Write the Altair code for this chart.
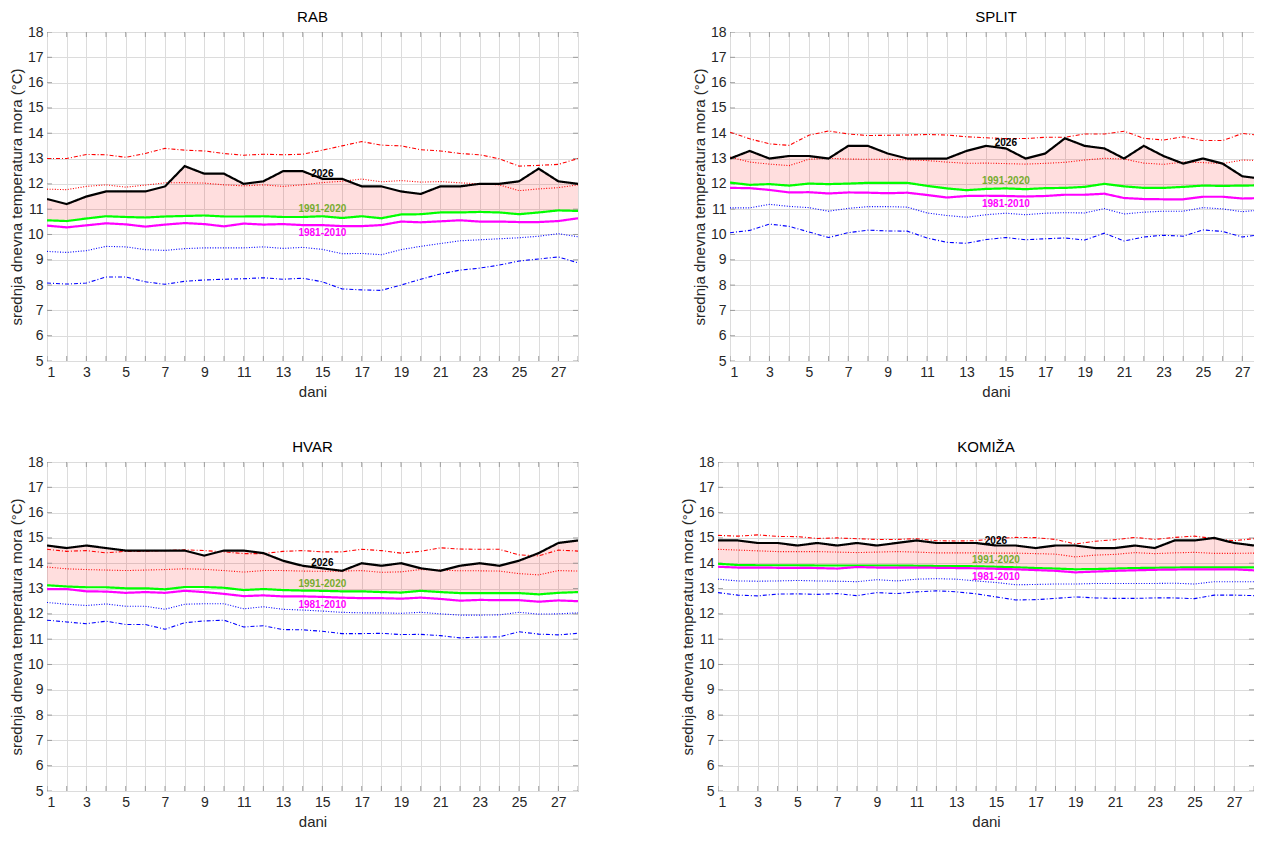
import altair as alt
import pandas as pd

days = list(range(1, 29))
y_ticks = list(range(5, 19))

series_keys = ["max_dd", "max_dot", "y2026", "c9120", "c8110", "min_dot", "min_dd"]

# ---------------- RAB ----------------
rab_y2026 = [11.4, 11.2, 11.5, 11.7, 11.7, 11.7, 11.9, 12.7, 12.4, 12.4, 12.0, 12.1, 12.5, 12.5,
             12.2, 12.2, 11.9, 11.9, 11.7, 11.6, 11.9, 11.9, 12.0, 12.0, 12.1, 12.6, 12.1, 12.0]
rab_max_dd = [13.0, 13.0, 13.16, 13.15, 13.05, 13.2, 13.4, 13.33, 13.3, 13.2, 13.13, 13.17, 13.15, 13.17,
              13.33, 13.5, 13.67, 13.53, 13.5, 13.35, 13.3, 13.2, 13.15, 12.99, 12.7, 12.73, 12.77, 13.0]
rab_max_dot = [11.79, 11.77, 11.9, 11.96, 11.87, 11.95, 12.04, 12.05, 12.03, 11.96, 11.92, 11.96, 11.9, 11.96,
               12.05, 12.1, 12.19, 12.08, 12.13, 12.07, 12.09, 12.04, 12.0, 11.96, 11.73, 11.8, 11.85, 11.96]
rab_c9120 = [10.56, 10.53, 10.63, 10.72, 10.69, 10.67, 10.71, 10.73, 10.75, 10.71, 10.71, 10.72, 10.69, 10.69,
             10.72, 10.65, 10.72, 10.64, 10.79, 10.8, 10.87, 10.87, 10.89, 10.87, 10.8, 10.87, 10.95, 10.93]
rab_c8110 = [10.35, 10.28, 10.36, 10.44, 10.4, 10.31, 10.39, 10.45, 10.41, 10.32, 10.43, 10.39, 10.41, 10.37,
             10.37, 10.33, 10.33, 10.37, 10.51, 10.48, 10.52, 10.56, 10.51, 10.51, 10.49, 10.49, 10.53, 10.64]
rab_min_dot = [9.33, 9.29, 9.36, 9.53, 9.51, 9.4, 9.37, 9.44, 9.47, 9.47, 9.47, 9.51, 9.45, 9.49,
               9.41, 9.24, 9.25, 9.2, 9.4, 9.53, 9.64, 9.75, 9.79, 9.83, 9.87, 9.93, 10.03, 9.91]
rab_min_dd = [8.08, 8.04, 8.08, 8.32, 8.32, 8.13, 8.03, 8.15, 8.2, 8.23, 8.25, 8.29, 8.23, 8.27,
              8.13, 7.85, 7.81, 7.79, 8.0, 8.23, 8.44, 8.59, 8.67, 8.79, 8.95, 9.03, 9.11, 8.88]

# ---------------- SPLIT ----------------
split_y2026 = [13.0, 13.3, 13.0, 13.1, 13.1, 13.0, 13.5, 13.5, 13.2, 13.0, 13.0, 13.0, 13.3, 13.5,
               13.4, 13.0, 13.2, 13.8, 13.5, 13.4, 13.0, 13.5, 13.1, 12.8, 13.0, 12.8, 12.3, 12.2]
split_max_dd = [14.04, 13.78, 13.58, 13.52, 13.92, 14.09, 13.97, 13.91, 13.92, 13.93, 13.95, 13.93, 13.86, 13.82,
                13.79, 13.79, 13.84, 13.84, 13.97, 13.97, 14.08, 13.8, 13.73, 13.86, 13.71, 13.71, 13.99, 13.91]
split_max_dot = [13.06, 12.86, 12.78, 12.72, 12.97, 13.01, 12.98, 12.97, 12.97, 12.95, 12.92, 12.86, 12.81, 12.82,
                 12.8, 12.78, 12.81, 12.85, 12.94, 13.01, 12.98, 12.82, 12.77, 12.86, 12.84, 12.8, 12.94, 12.92]
split_c9120 = [12.05, 11.96, 11.99, 11.93, 12.01, 11.99, 12.01, 12.04, 12.04, 12.04, 11.92, 11.82, 11.75, 11.8,
               11.82, 11.79, 11.83, 11.84, 11.88, 12.0, 11.9, 11.84, 11.84, 11.88, 11.93, 11.92, 11.93, 11.94]
split_c8110 = [11.84, 11.83, 11.76, 11.66, 11.67, 11.62, 11.66, 11.65, 11.63, 11.65, 11.56, 11.46, 11.52, 11.53,
               11.52, 11.5, 11.52, 11.57, 11.57, 11.61, 11.44, 11.4, 11.39, 11.39, 11.49, 11.49, 11.42, 11.44]
split_min_dot = [11.05, 11.05, 11.19, 11.11, 11.06, 10.92, 11.03, 11.1, 11.1, 11.08, 10.85, 10.75, 10.68, 10.78,
                 10.84, 10.78, 10.84, 10.86, 10.85, 11.02, 10.81, 10.88, 10.92, 10.92, 11.06, 11.01, 10.9, 10.97]
split_min_dd = [10.07, 10.16, 10.41, 10.32, 10.1, 9.88, 10.07, 10.17, 10.14, 10.13, 9.86, 9.69, 9.65, 9.8,
                9.88, 9.79, 9.83, 9.86, 9.78, 10.05, 9.74, 9.9, 9.97, 9.93, 10.18, 10.12, 9.9, 10.0]

# ---------------- HVAR ----------------
hvar_y2026 = [14.7, 14.6, 14.7, 14.6, 14.5, 14.5, 14.5, 14.5, 14.3, 14.5, 14.5, 14.4, 14.1, 13.9,
              13.8, 13.7, 14.0, 13.9, 14.0, 13.8, 13.7, 13.9, 14.0, 13.9, 14.1, 14.4, 14.8, 14.9]
hvar_max_dd = [14.55, 14.47, 14.5, 14.41, 14.47, 14.47, 14.5, 14.53, 14.5, 14.45, 14.38, 14.38, 14.47, 14.5,
               14.45, 14.45, 14.55, 14.5, 14.4, 14.47, 14.61, 14.56, 14.55, 14.55, 14.33, 14.29, 14.52, 14.48]
hvar_max_dot = [13.85, 13.78, 13.75, 13.73, 13.71, 13.73, 13.75, 13.78, 13.76, 13.71, 13.65, 13.71, 13.71, 13.69,
                13.68, 13.69, 13.71, 13.64, 13.66, 13.75, 13.73, 13.7, 13.7, 13.69, 13.59, 13.54, 13.71, 13.69]
hvar_c9120 = [13.13, 13.08, 13.05, 13.05, 13.01, 13.01, 12.97, 13.06, 13.06, 13.03, 12.94, 12.98, 12.94, 12.92,
              12.91, 12.89, 12.89, 12.86, 12.84, 12.91, 12.86, 12.82, 12.82, 12.82, 12.82, 12.77, 12.83, 12.86]
hvar_c8110 = [12.98, 12.98, 12.89, 12.88, 12.83, 12.86, 12.83, 12.91, 12.86, 12.79, 12.7, 12.73, 12.69, 12.69,
              12.67, 12.64, 12.62, 12.62, 12.6, 12.64, 12.59, 12.52, 12.55, 12.54, 12.54, 12.48, 12.53, 12.5]
hvar_min_dot = [12.45, 12.38, 12.33, 12.39, 12.3, 12.3, 12.18, 12.38, 12.4, 12.4, 12.2, 12.28, 12.18, 12.15,
                12.11, 12.06, 12.04, 12.04, 12.02, 12.06, 12.0, 11.95, 11.95, 11.96, 12.06, 11.99, 12.0, 12.04]
hvar_min_dd = [11.75, 11.68, 11.61, 11.71, 11.58, 11.58, 11.39, 11.65, 11.72, 11.75, 11.48, 11.53, 11.38, 11.37,
               11.31, 11.22, 11.22, 11.23, 11.18, 11.19, 11.14, 11.05, 11.08, 11.09, 11.29, 11.2, 11.17, 11.23]

# ---------------- KOMIŽA ----------------
komiza_y2026 = [14.9, 14.9, 14.8, 14.8, 14.7, 14.8, 14.7, 14.8, 14.7, 14.8, 14.9, 14.8, 14.8, 14.8,
                14.7, 14.7, 14.6, 14.7, 14.7, 14.6, 14.6, 14.7, 14.6, 14.9, 14.9, 15.0, 14.8, 14.7]
komiza_max_dd = [15.1, 15.07, 15.12, 15.06, 15.05, 14.98, 15.0, 14.97, 14.94, 14.94, 14.97, 14.89, 14.88, 14.89,
                 14.98, 15.02, 15.01, 14.94, 14.76, 14.87, 14.93, 15.02, 14.94, 15.02, 15.07, 14.97, 14.89, 14.97]
komiza_max_dot = [14.55, 14.52, 14.49, 14.46, 14.46, 14.46, 14.44, 14.42, 14.44, 14.46, 14.44, 14.41, 14.41, 14.41,
                  14.4, 14.4, 14.38, 14.36, 14.25, 14.32, 14.35, 14.42, 14.38, 14.41, 14.43, 14.39, 14.39, 14.4]
komiza_c9120 = [13.98, 13.93, 13.92, 13.92, 13.92, 13.91, 13.91, 13.91, 13.91, 13.91, 13.9, 13.89, 13.89, 13.88,
                13.86, 13.84, 13.81, 13.79, 13.76, 13.77, 13.79, 13.81, 13.82, 13.83, 13.84, 13.84, 13.84, 13.84]
komiza_c8110 = [13.86, 13.83, 13.83, 13.82, 13.82, 13.81, 13.79, 13.85, 13.83, 13.83, 13.83, 13.82, 13.81, 13.8,
                13.78, 13.76, 13.73, 13.7, 13.64, 13.67, 13.7, 13.72, 13.74, 13.75, 13.76, 13.76, 13.76, 13.72]
komiza_min_dot = [13.37, 13.3, 13.29, 13.3, 13.32, 13.3, 13.29, 13.27, 13.35, 13.3, 13.37, 13.39, 13.37, 13.3,
                  13.24, 13.15, 13.16, 13.18, 13.18, 13.2, 13.2, 13.2, 13.2, 13.21, 13.18, 13.27, 13.27, 13.27]
komiza_min_dd = [12.84, 12.74, 12.71, 12.78, 12.79, 12.77, 12.8, 12.72, 12.84, 12.8, 12.87, 12.91, 12.87, 12.79,
                 12.67, 12.55, 12.56, 12.61, 12.67, 12.63, 12.61, 12.61, 12.63, 12.63, 12.6, 12.74, 12.74, 12.72]

label_day = 15
label_texts = {"y2026": "2026", "c9120": "1991-2020", "c8110": "1981-2010"}

# ---------------- styling ----------------
FONT = "Liberation Sans"
TXT = "#262626"
FRAME = "#7f7f7f"
series_colors = ["#ff0000", "#ff0000", "#000000", "#00ff00", "#ff00ff", "#0000ff", "#0000ff"]
series_dash = [[4, 2, 1, 2], [1, 1.6], [1, 0], [1, 0], [1, 0], [1, 1.6], [4, 2, 1, 2]]
label_colors = {"y2026": "#000000", "c9120": "#77ac30", "c8110": "#ff00ff"}
label_dy = {"y2026": -5, "c9120": -7, "c8110": 8}

PH = 329


def panel(name, y2026, max_dd, max_dot, c9120, c8110, min_dot, min_dd, width):
    cols = {"max_dd": max_dd, "max_dot": max_dot, "y2026": y2026, "c9120": c9120,
            "c8110": c8110, "min_dot": min_dot, "min_dd": min_dd}
    wide = pd.DataFrame({"day": days, **cols})
    long = wide.melt(id_vars="day", value_vars=series_keys, var_name="series", value_name="value")

    x_enc = alt.X("day:Q",
                  scale=alt.Scale(domain=[1, 28], nice=False, zero=False),
                  axis=alt.Axis(values=days,
                                labelExpr="datum.value % 2 == 1 ? datum.label : ''",
                                title="dani", grid=True, ticks=False, domain=False,
                                labelPadding=4, titlePadding=5))

    def y_enc(field):
        return alt.Y(f"{field}:Q",
                     scale=alt.Scale(domain=[5, 18], nice=False, zero=False),
                     axis=alt.Axis(values=y_ticks, title="srednja dnevna temperatura mora (°C)",
                                   grid=True, ticks=False, domain=False,
                                   labelPadding=4, titlePadding=3))

    area = alt.Chart(wide).mark_area(color="#ff0000", opacity=0.13, clip=True).encode(
        x=x_enc, y=y_enc("c9120"), y2="y2026:Q")

    def lines(keys, sw):
        return alt.Chart(long).mark_line(clip=True, strokeWidth=sw).encode(
            x=x_enc, y=y_enc("value"),
            color=alt.Color("series:N", scale=alt.Scale(domain=series_keys, range=series_colors), legend=None),
            strokeDash=alt.StrokeDash("series:N", scale=alt.Scale(domain=series_keys, range=series_dash),
                                      legend=None),
            detail="series:N").transform_filter(alt.FieldOneOfPredicate(field="series", oneOf=keys))

    thin = lines(["max_dd", "max_dot", "min_dot", "min_dd"], 1.1)
    mid = lines(["c8110", "c9120"], 2.2)
    top = lines(["y2026"], 2.2)

    # inward ticks on the box (MATLAB style)
    xt_df = pd.DataFrame({"day": days})
    yt_df = pd.DataFrame({"yv": y_ticks})
    tick_layers = []
    for ypix in [0, PH]:
        tick_layers.append(alt.Chart(xt_df).mark_tick(orient="vertical", size=10, thickness=1,
                                                      color=FRAME, clip=True).encode(
            x=x_enc, y=alt.value(ypix)))
    for xpix in [0, width]:
        tick_layers.append(alt.Chart(yt_df).mark_tick(orient="horizontal", size=10, thickness=1,
                                                      color=FRAME, clip=True).encode(
            y=y_enc("yv"), x=alt.value(xpix)))

    texts = []
    for key in ["y2026", "c9120", "c8110"]:
        tdf = pd.DataFrame({"day": [label_day], "value": [cols[key][label_day - 1]],
                            "label": [label_texts[key]]})
        texts.append(alt.Chart(tdf).mark_text(font=FONT, fontSize=10, fontWeight="bold",
                                              color=label_colors[key], dy=label_dy[key]).encode(
            x=x_enc, y=y_enc("value"), text="label:N"))

    return alt.layer(area, *tick_layers, thin, mid, top, *texts).properties(
        width=width, height=PH,
        title=alt.TitleParams(name, fontSize=15, font=FONT, fontWeight="normal", color="#000000",
                              frame="group", offset=0))


rab = panel("RAB", rab_y2026, rab_max_dd, rab_max_dot, rab_c9120, rab_c8110, rab_min_dot, rab_min_dd, 531)
split = panel("SPLIT", split_y2026, split_max_dd, split_max_dot, split_c9120, split_c8110, split_min_dot,
              split_min_dd, 532)
hvar = panel("HVAR", hvar_y2026, hvar_max_dd, hvar_max_dot, hvar_c9120, hvar_c8110, hvar_min_dot, hvar_min_dd,
             531)
komiza = panel("KOMIŽA", komiza_y2026, komiza_max_dd, komiza_max_dot, komiza_c9120, komiza_c8110,
               komiza_min_dot, komiza_min_dd, 536)

# The SPLIT panel runs past the right edge of the picture, as in the original figure:
# the drawing surface is fixed to the window and the overflow is cut off.
PAD_LEFT, PAD_TOP = 39, 24
chart = alt.vconcat(
    alt.hconcat(rab, split, spacing=112),
    alt.hconcat(hvar, komiza, spacing=100),
    spacing=39,
).properties(
    autosize=alt.AutoSizeParams(type="none"),
    padding={"top": PAD_TOP, "left": PAD_LEFT, "right": 1246 - PAD_LEFT, "bottom": 837 - PAD_TOP},
).configure_view(
    stroke=FRAME, strokeWidth=1
).configure_axis(
    labelFont=FONT, titleFont=FONT, labelFontSize=14, titleFontSize=15,
    labelColor=TXT, titleColor=TXT, titleFontWeight="normal",
    gridColor="#dcdcdc", gridWidth=1
)

chart.save("out.html", embed_options={"renderer": "svg", "actions": False})
